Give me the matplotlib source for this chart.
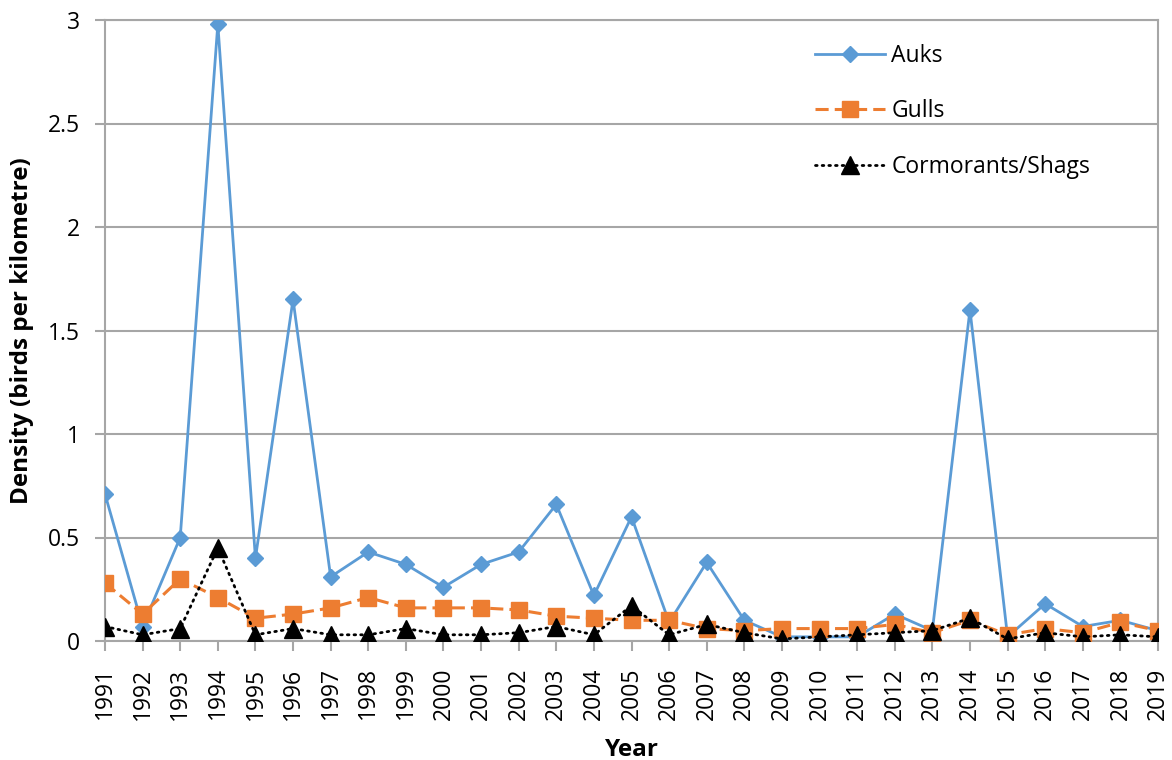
import matplotlib
matplotlib.use("Agg")
import matplotlib.pyplot as plt

years = list(range(1991, 2020))
auks = [0.71, 0.07, 0.50, 2.98, 0.40, 1.65, 0.31, 0.43, 0.37, 0.26,
        0.37, 0.43, 0.66, 0.22, 0.60, 0.09, 0.38, 0.10, 0.02, 0.02,
        0.02, 0.13, 0.05, 1.60, 0.02, 0.18, 0.07, 0.10, 0.05]
gulls = [0.28, 0.13, 0.30, 0.21, 0.11, 0.13, 0.16, 0.21, 0.16, 0.16,
         0.16, 0.15, 0.12, 0.11, 0.10, 0.10, 0.06, 0.05, 0.06, 0.06,
         0.06, 0.08, 0.04, 0.10, 0.03, 0.06, 0.04, 0.09, 0.05]
cormorants = [0.07, 0.03, 0.06, 0.45, 0.03, 0.06, 0.03, 0.03, 0.06, 0.03,
              0.03, 0.04, 0.07, 0.03, 0.17, 0.03, 0.08, 0.04, 0.01, 0.02,
              0.03, 0.04, 0.05, 0.11, 0.01, 0.04, 0.02, 0.03, 0.02]
yticks = [0, 0.5, 1, 1.5, 2, 2.5, 3]
ytick_labels = ["0", "0.5", "1", "1.5", "2", "2.5", "3"]

plt.rcParams['font.family'] = ['Open Sans', 'DejaVu Sans']

fig = plt.figure(figsize=(11.72, 7.6), dpi=100)
ax = fig.add_axes([105/1172, 119/760, (1158-105)/1172, (641-20)/760])

grid_c = '#A6A6A6'
ax.plot(years, auks, color='#5B9BD5', lw=2.0, marker='D', ms=8.5,
        label='Auks', zorder=3)
ax.plot(years, gulls, color='#ED7D31', lw=2.2, ls=(0, (4.3, 2.0)), marker='s',
        ms=12, label='Gulls', zorder=4)
ax.plot(years, cormorants, color='black', lw=2.0, ls=(0, (0.6, 1.8)),
        dash_capstyle='round', marker='^', ms=13, label='Cormorants/Shags',
        zorder=5)

ax.set_xlim(1991, 2019)
ax.set_ylim(0, 3)
ax.set_xticks(years)
ax.set_xticklabels([str(y) for y in years], rotation=90, fontsize=16.5)
ax.set_yticks(yticks)
ax.set_yticklabels(ytick_labels, fontsize=16.5)
ax.yaxis.grid(True, color=grid_c, lw=1.5)
ax.set_axisbelow(True)
for s in ax.spines.values():
    s.set_color(grid_c)
    s.set_linewidth(1.5)
ax.tick_params(axis='both', direction='out', length=7, width=1.5,
               color=grid_c)
ax.tick_params(axis='x', pad=12)
ax.tick_params(axis='y', pad=11)
ax.set_xlabel('Year', fontsize=17.5, fontweight='bold', labelpad=13)
ax.set_ylabel('Density (birds per kilometre)', fontsize=17.5,
              fontweight='bold', labelpad=10)

leg = ax.legend(loc='upper left', bbox_to_anchor=(794/1172, 1 - 23/760),
                bbox_transform=fig.transFigure, frameon=False, fontsize=16.5,
                labelspacing=1.39, handlelength=3.05, handletextpad=0.3)

fig.savefig('out.png', dpi=100)
